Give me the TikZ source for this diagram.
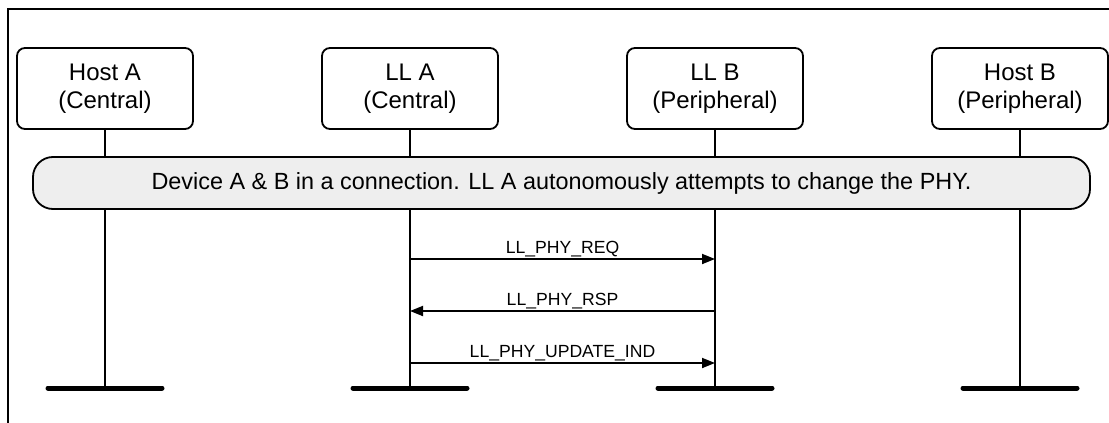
\documentclass[tikz,border=0pt]{standalone}
\usepackage{fontspec}
\setmainfont{Liberation Sans}
\usetikzlibrary{arrows.meta}
\definecolor{bannergray}{RGB}{238,238,238}
\tikzset{
  entity/.style={draw, line width=1.8pt, rounded corners=8pt, minimum width=176pt, minimum height=81pt, align=center, inner sep=0pt, font=\fontsize{24}{27.5}\selectfont},
  lifeline/.style={line width=1.8pt},
  bar/.style={line width=5pt, line cap=round},
  banner/.style={draw, line width=1.8pt, fill=bannergray, rounded corners=20pt, minimum width=1057pt, minimum height=52pt, inner sep=0pt, font=\fontsize{23.4}{27}\selectfont},
  msg/.style={line width=1.8pt, -{Triangle[length=13pt,width=10pt]}},
  msglabel/.style={font=\fontsize{17.6}{21}\selectfont, inner sep=0pt, anchor=base},
  frame/.style={line width=1.8pt}
}
\begin{document}
\begin{tikzpicture}[x=1pt,y=-1pt]
\useasboundingbox (0,0) rectangle (1109,423);
% frame
\coordinate (fTL) at (8,9);
\coordinate (fTR) at (1109,9);
\coordinate (fBL) at (8,423);
\draw[frame] (fTR) -- (fTL) -- (fBL);
% entities
\node[entity] (hA) at (105,88.5) {Host A\\(Central)};
\node[entity] (lA) at (410,88.5) {LL A\\(Central)};
\node[entity] (lB) at (715,88.5) {LL B\\(Peripheral)};
\node[entity] (hB) at (1020,88.5) {Host B\\(Peripheral)};
% lifeline ends
\foreach \n/\x in {hA/105, lA/410, lB/715, hB/1020}{
  \coordinate (\n end) at (\x,388);
  \coordinate (\n barL) at (\x-57,388);
  \coordinate (\n barR) at (\x+57,388);
  \draw[lifeline] (\n.south) -- (\n end);
  \draw[bar] (\n barL) -- (\n barR);
}
% banner
\node[banner] (ban) at (561.5,183) {Device A \& B in a connection. LL A autonomously attempts to change the PHY.};
% messages
\coordinate (lA1) at (410,259); \coordinate (lB1) at (715,259);
\coordinate (lA2) at (410,311); \coordinate (lB2) at (715,311);
\coordinate (lA3) at (410,363); \coordinate (lB3) at (715,363);
\draw[msg] (lA1) -- (lB1);
\draw[msg] (lB2) -- (lA2);
\draw[msg] (lA3) -- (lB3);
\node[msglabel] (m1) at (562.5,253) {LL\_PHY\_REQ};
\node[msglabel] (m2) at (562.5,305) {LL\_PHY\_RSP};
\node[msglabel] (m3) at (562.5,357) {LL\_PHY\_UPDATE\_IND};
\end{tikzpicture}
\end{document}
